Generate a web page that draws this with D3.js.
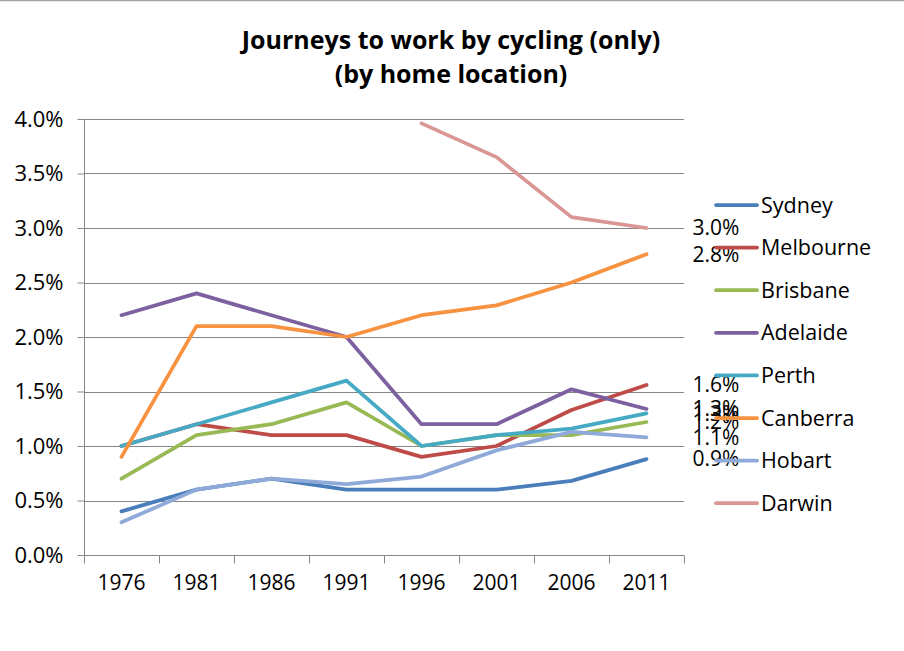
<!DOCTYPE html>
<html>
<head>
<meta charset="utf-8">
<script src="https://cdn.jsdelivr.net/npm/d3@7"></script>
<style>
  html, body { margin: 0; padding: 0; background: #fff; }
  svg { display: block; font-family: "Open Sans", Lato, sans-serif; }
</style>
</head>
<body>
<svg id="chart" width="904" height="651"></svg>
<script>
const years = ["1976", "1981", "1986", "1991", "1996", "2001", "2006", "2011"];
const yTicks = [0, 0.005, 0.01, 0.015, 0.02, 0.025, 0.03, 0.035, 0.04];

const sydney    = [0.40, 0.60, 0.70, 0.60, 0.60, 0.60, 0.68, 0.88];
const melbourne = [1.00, 1.20, 1.10, 1.10, 0.90, 1.00, 1.33, 1.56];
const brisbane  = [0.70, 1.10, 1.20, 1.40, 1.00, 1.10, 1.10, 1.22];
const adelaide  = [2.20, 2.40, 2.20, 2.00, 1.20, 1.20, 1.52, 1.34];
const perth     = [1.00, 1.20, 1.40, 1.60, 1.00, 1.10, 1.16, 1.30];
const canberra  = [0.90, 2.10, 2.10, 2.00, 2.20, 2.29, 2.50, 2.76];
const hobart    = [0.30, 0.60, 0.70, 0.65, 0.72, 0.96, 1.13, 1.08];
const darwin    = [null, null, null, null, 3.96, 3.65, 3.10, 3.00];

const seriesNames = ["Sydney", "Melbourne", "Brisbane", "Adelaide", "Perth", "Canberra", "Hobart", "Darwin"];
const seriesValues = [sydney, melbourne, brisbane, adelaide, perth, canberra, hobart, darwin];
const seriesColors = ["#4A7EBB", "#BE4B48", "#98B954", "#7D60A0", "#46AAC5", "#F69240", "#8FAAD9", "#D99694"];

const svg = d3.select("#chart");
const W = 904, H = 651;
const margin = { left: 84, right: 220, top: 119, bottom: 96 };
const plotW = W - margin.left - margin.right; // 600
const plotH = H - margin.top - margin.bottom; // 436
const FONT = "'Open Sans', Lato, sans-serif";

// top border line
svg.append("line").attr("x1", 0).attr("x2", W).attr("y1", 0.5).attr("y2", 0.5)
  .attr("stroke", "#a6a6a6").attr("stroke-width", 1.5);

const x = d3.scaleBand().domain(years).range([0, plotW]).paddingInner(0).paddingOuter(0);
const y = d3.scaleLinear().domain([0, 0.04]).range([plotH, 0]);

const g = svg.append("g").attr("transform", `translate(${margin.left},${margin.top})`);

// title
const title = svg.append("text").attr("x", 451).attr("y", 49)
  .attr("text-anchor", "middle").attr("font-weight", "bold").attr("font-size", 25).attr("fill", "#000");
title.append("tspan").attr("x", 451).attr("dy", 0).text("Journeys to work by cycling (only)");
title.append("tspan").attr("x", 451).attr("dy", 34).text("(by home location)");

// gridlines
g.append("g").selectAll("line").data(yTicks.filter(d => d > 0)).join("line")
  .attr("x1", 0).attr("x2", plotW)
  .attr("y1", d => Math.round(y(d)) + 0.5).attr("y2", d => Math.round(y(d)) + 0.5)
  .attr("stroke", "#868686").attr("stroke-width", 1);

// y axis
const yAxis = d3.axisLeft(y).tickValues(yTicks).tickFormat(d3.format(".1%")).tickSize(7).tickPadding(14);
const yg = g.append("g").attr("transform", "translate(0.5,0)").call(yAxis);
yg.select(".domain").attr("stroke", "#868686").attr("d", `M0,${plotH}V0`);
yg.selectAll(".tick line").attr("stroke", "#868686");
yg.selectAll(".tick text").attr("font-size", 22).attr("fill", "#000").attr("font-family", FONT);

// x axis
const xAxis = d3.axisBottom(x).tickSize(0).tickPadding(20);
const xg = g.append("g").attr("transform", `translate(0,${plotH + 0.5})`).call(xAxis);
xg.select(".domain").attr("stroke", "#868686").attr("d", `M0,0H${plotW}`);
xg.selectAll(".tick text").attr("font-size", 21).attr("fill", "#000").attr("font-family", FONT);
// boundary ticks
const bounds = years.map(yr => x(yr)).concat([plotW]);
xg.append("g").selectAll("line").data(bounds).join("line")
  .attr("x1", d => Math.round(d) + 0.5).attr("x2", d => Math.round(d) + 0.5)
  .attr("y1", 0).attr("y2", 8).attr("stroke", "#868686");

// lines
const line = d3.line()
  .defined(d => d.v !== null)
  .x(d => x(d.year) + x.bandwidth() / 2)
  .y(d => y(d.v / 100));

const series = seriesNames.map((name, i) => ({
  name, color: seriesColors[i],
  points: years.map((yr, j) => ({ year: yr, v: seriesValues[i][j] }))
}));

g.append("g").selectAll("path").data(series).join("path")
  .attr("d", d => line(d.points))
  .attr("fill", "none").attr("stroke", d => d.color)
  .attr("stroke-width", 3.75).attr("stroke-linejoin", "round").attr("stroke-linecap", "round");

// end labels
g.append("g").selectAll("text").data(series).join("text")
  .attr("x", x(years[years.length - 1]) + x.bandwidth() / 2 + 46)
  .attr("y", d => y(d.points[d.points.length - 1].v / 100))
  .attr("dy", "0.35em").attr("font-size", 21).attr("fill", "#000")
  .text(d => d3.format(".1%")(d.points[d.points.length - 1].v / 100));

// legend
const leg = svg.append("g").attr("transform", "translate(716,205)");
const li = leg.selectAll("g").data(series).join("g")
  .attr("transform", (d, i) => `translate(0,${i * 42.6})`);
li.append("line").attr("x1", 0).attr("x2", 41).attr("y1", 0).attr("y2", 0)
  .attr("stroke", d => d.color).attr("stroke-width", 3.75).attr("stroke-linecap", "round");
li.append("text").attr("x", 45).attr("y", 0).attr("dy", "0.35em")
  .attr("font-size", 21.5).attr("fill", "#000").text(d => d.name);
</script>
</body>
</html>
